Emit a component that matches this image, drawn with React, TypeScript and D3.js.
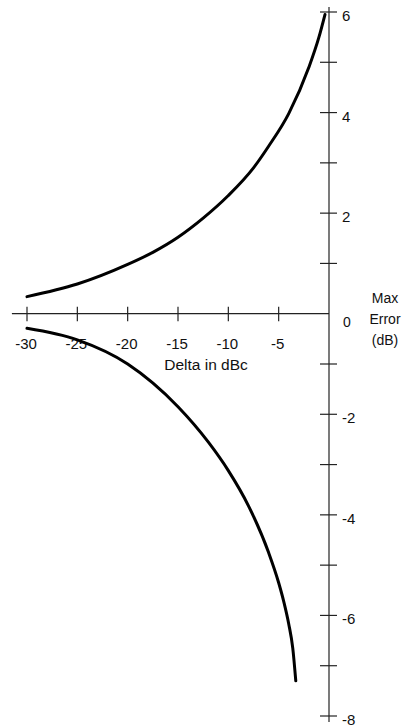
import { useMemo } from 'react'
import * as d3 from 'd3'

// Delta in dBc (x) vs max error in dB (y)
const upperDelta = [-30, -25, -20, -17.5, -15, -12.5, -10, -7.5, -6, -4, -2, -1, -0.4]
const upperError = [0.34, 0.59, 0.98, 1.22, 1.52, 1.9, 2.35, 2.9, 3.33, 3.98, 4.9, 5.5, 5.95]

const lowerDelta = [-30, -25, -20, -15, -12, -10, -8, -6, -5, -4.5, -4, -3.6, -3.3]
const lowerError = [-0.29, -0.52, -1.0, -1.85, -2.55, -3.12, -3.82, -4.75, -5.35, -5.72, -6.17, -6.65, -7.3]

const xTicks = [-30, -25, -20, -15, -10, -5]
const yTicks = [6, 5, 4, 3, 2, 1, -1, -2, -3, -4, -5, -6, -7, -8]
const yLabels = [6, 4, 2, -2, -4, -6, -8]
const yTitle = ['Max', 'Error', '(dB)']

const font = '"Liberation Sans", Arial, Helvetica, sans-serif'

const App = () => {
  const width = 407
  const height = 728

  const x = d3.scaleLinear().domain([-30, 0]).range([27, 329])
  const y = d3.scaleLinear().domain([-8, 6]).range([716, 12])

  const line = d3
    .line<[number, number]>()
    .x((d) => x(d[0]))
    .y((d) => y(d[1]))
    .curve(d3.curveMonotoneX)

  const upperPath = useMemo(() => line(upperDelta.map((d, i) => [d, upperError[i]])), [])
  const lowerPath = useMemo(() => line(lowerDelta.map((d, i) => [d, lowerError[i]])), [])

  const x0 = x(0)
  const y0 = y(0)

  return (
    <svg
      width={width}
      height={height}
      viewBox={`0 0 ${width} ${height}`}
      style={{ position: 'absolute', left: 0, top: 0, display: 'block', background: '#fff' }}
      fontFamily={font}
    >
      {/* axes */}
      <line x1={x(-31.5)} x2={x0} y1={y0} y2={y0} stroke="#222" strokeWidth={1.2} />
      <line x1={x0} x2={x0} y1={y(6.1)} y2={y(-8.12)} stroke="#222" strokeWidth={1.2} />

      {xTicks.map((t) => (
        <g key={`xt${t}`}>
          <line x1={x(t)} x2={x(t)} y1={y0 - 7} y2={y0 + 7.5} stroke="#222" strokeWidth={1.2} />
          <text x={x(t) - 1} y={y0 + 35} textAnchor="middle" fontSize={15} fill="#111">
            {t}
          </text>
        </g>
      ))}

      {yTicks.map((t) => (
        <line key={`yt${t}`} x1={x0 - 9} x2={x0 + 8} y1={y(t)} y2={y(t)} stroke="#222" strokeWidth={1.2} />
      ))}
      {yLabels.map((t) => (
        <text key={`yl${t}`} x={342} y={y(t) + 9} fontSize={15} fill="#111">
          {t}
        </text>
      ))}
      <text x={343} y={y0 + 13} fontSize={14} fill="#111">
        0
      </text>

      {yTitle.map((s, i) => (
        <text key={s} x={385} y={303 + i * 21} textAnchor="middle" fontSize={14} fill="#111">
          {s}
        </text>
      ))}

      <text x={206} y={370} textAnchor="middle" fontSize={15.5} fill="#111">
        Delta in dBc
      </text>

      {/* curves */}
      <path d={upperPath ?? ''} fill="none" stroke="#000" strokeWidth={3} strokeLinecap="round" />
      <path d={lowerPath ?? ''} fill="none" stroke="#000" strokeWidth={3} strokeLinecap="round" />
    </svg>
  )
}

export default App
